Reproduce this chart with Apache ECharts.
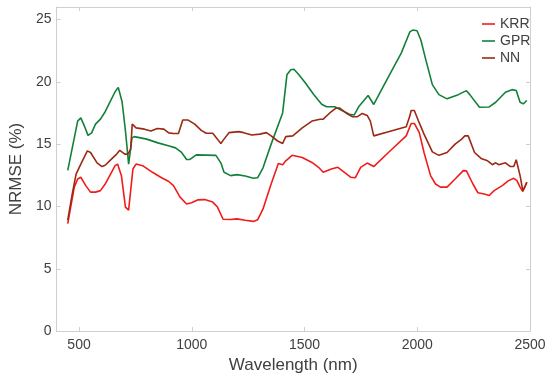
<!DOCTYPE html>
<html>
<head>
<meta charset="utf-8">
<script src="https://cdn.jsdelivr.net/npm/echarts@6/dist/echarts.min.js"></script>
<style>html,body{margin:0;padding:0;background:#fff}#c{width:550px;height:379px}</style>
</head>
<body>
<div id="c"></div>
<script>
const xTicks = [500, 1000, 1500, 2000, 2500];
const yTicks = [0, 5, 10, 15, 20, 25];
const seriesNames = ['KRR', 'GPR', 'NN'];

const krrWl = [450,479,494,508,530,551,573,595,616,660,671,688,706,720,739,753,782,826,862,898,919,948,977,999,1028,1057,1093,1114,1139,1172,1201,1237,1273,1292,1316,1352,1384,1403,1417,1445,1490,1533,1562,1583,1619,1648,1677,1706,1725,1749,1778,1807,1872,1951,1973,1987,2009,2030,2059,2081,2103,2132,2168,2204,2218,2247,2269,2297,2319,2341,2377,2405,2428,2442,2456,2468,2486];
const krrVal = [8.62,11.55,12.2,12.34,11.67,11.15,11.15,11.27,11.8,13.27,13.4,12.47,9.95,9.7,13.0,13.4,13.27,12.74,12.34,12.0,11.67,10.75,10.2,10.3,10.53,10.55,10.35,9.95,8.97,8.95,9.0,8.89,8.8,8.93,9.8,11.8,13.45,13.35,13.66,14.1,13.93,13.53,13.14,12.74,13.0,13.14,12.74,12.34,12.3,13.14,13.48,13.2,14.33,15.66,16.66,16.66,15.92,14.33,12.47,11.8,11.55,11.55,12.2,12.87,12.85,11.8,11.1,11.0,10.88,11.27,11.67,12.07,12.26,12.07,11.55,11.2,11.94];

const gprWl = [450,494,508,525,540,556,573,595,616,660,674,691,706,720,735,745,800,850,900,928,955,977,992,1020,1107,1129,1143,1172,1201,1237,1273,1292,1316,1352,1403,1422,1439,1453,1475,1504,1540,1576,1598,1634,1655,1699,1720,1742,1782,1807,1872,1929,1967,1980,1999,2016,2038,2067,2096,2132,2182,2218,2233,2276,2319,2348,2391,2420,2439,2456,2470,2486];
const gprVal = [12.9,16.85,17.1,16.4,15.7,15.9,16.6,17.0,17.6,19.2,19.55,18.4,16.05,13.4,15.5,15.6,15.4,15.1,14.85,14.7,14.33,13.77,13.77,14.14,14.1,13.5,12.74,12.47,12.55,12.44,12.26,12.3,13.1,15.0,17.5,20.56,20.96,21.0,20.57,19.9,19.0,18.2,18.0,18.0,17.8,17.4,17.33,18.04,18.9,18.18,20.4,22.3,24.0,24.15,24.1,23.35,21.76,19.77,18.97,18.63,18.97,19.29,18.97,17.96,17.98,18.36,19.16,19.37,19.3,18.36,18.23,18.5];

const nnWl = [450,470,487,508,537,551,580,602,616,638,667,681,703,717,729,736,753,790,819,847,876,898,919,941,960,984,1013,1042,1064,1093,1114,1129,1143,1165,1208,1230,1266,1302,1331,1352,1381,1403,1417,1448,1490,1533,1569,1583,1612,1641,1655,1684,1713,1735,1756,1778,1792,1807,1872,1951,1967,1973,1987,2009,2030,2067,2096,2132,2168,2197,2211,2226,2254,2283,2312,2333,2348,2362,2391,2413,2428,2439,2456,2468,2478,2486];
const nnVal = [8.9,11.0,12.6,13.4,14.46,14.33,13.5,13.2,13.3,13.7,14.2,14.5,14.2,14.2,14.6,16.6,16.3,16.2,16.05,16.25,16.2,15.9,15.85,15.85,16.93,16.93,16.6,16.1,15.87,15.87,15.4,15.05,15.4,15.92,16.0,15.92,15.73,15.8,15.92,15.66,15.25,15.05,15.6,15.66,16.3,16.85,17.0,17.0,17.5,17.9,17.9,17.5,17.2,17.2,17.46,17.3,16.85,15.66,16.0,16.4,17.25,17.7,17.7,16.7,15.8,14.38,14.1,14.33,15.0,15.4,15.66,15.66,14.33,13.85,13.66,13.35,13.5,13.35,13.5,13.2,13.2,13.75,12.47,11.27,11.6,11.94];

const colors = ['#f01c1c', '#13803a', '#9a2a14'];
const pairs = (xs, ys) => xs.map((x, i) => [x, ys[i]]);
const seriesData = [pairs(krrWl, krrVal), pairs(gprWl, gprVal), pairs(nnWl, nnVal)];

const axisGray = '#cfcfcf';
const textGray = '#404040';
const font = 'Liberation Sans, Arial, sans-serif';
const plain = v => String(v);

function xAxisBase(pos, showLabel) {
  return {
    type: 'value', position: pos, min: 400, max: 2500,
    splitLine: { show: false },
    axisLine: { show: true, onZero: false, lineStyle: { color: axisGray, width: 1 } },
    axisTick: { show: true, inside: true, length: 4, customValues: xTicks, lineStyle: { color: axisGray } },
    axisLabel: { show: showLabel, customValues: xTicks, formatter: plain, margin: 7, color: textGray, fontSize: 14, fontFamily: font }
  };
}
function yAxisBase(pos, showLabel) {
  return {
    type: 'value', position: pos, min: 0, max: 26,
    splitLine: { show: false },
    axisLine: { show: true, onZero: false, lineStyle: { color: axisGray, width: 1 } },
    axisTick: { show: true, inside: true, length: 4, customValues: yTicks, lineStyle: { color: axisGray } },
    axisLabel: { show: showLabel, customValues: yTicks, formatter: plain, margin: 5, color: textGray, fontSize: 14, fontFamily: font }
  };
}

const xMain = xAxisBase('bottom', true);
xMain.name = 'Wavelength (nm)';
xMain.nameLocation = 'middle';
xMain.nameGap = 24;
xMain.nameTextStyle = { color: textGray, fontSize: 17, fontFamily: font };
const yMain = yAxisBase('left', true);
yMain.name = 'NRMSE (%)';
yMain.nameLocation = 'middle';
yMain.nameGap = 23;
yMain.nameTextStyle = { color: textGray, fontSize: 17, fontFamily: font };

const chart = echarts.init(document.getElementById('c'), null, { renderer: 'canvas' });
chart.setOption({
  animation: false,
  backgroundColor: '#fff',
  grid: { left: 45, right: 20, top: 7, bottom: 46, containLabel: false },
  legend: {
    orient: 'vertical', left: 477, top: 12,
    icon: 'rect', itemWidth: 13, itemHeight: 1.6, itemGap: 3,
    textStyle: { color: textGray, fontSize: 14, fontFamily: font },
    data: seriesNames.map((n, i) => ({ name: n, itemStyle: { color: colors[i] } }))
  },
  xAxis: [xMain, xAxisBase('top', false)],
  yAxis: [yMain, yAxisBase('right', false)],
  series: seriesNames.map((n, i) => ({
    name: n, type: 'line', xAxisIndex: 0, yAxisIndex: 0,
    data: seriesData[i], symbol: 'none', smooth: false,
    lineStyle: { color: colors[i], width: 1.6 },
    itemStyle: { color: colors[i] }
  }))
});
</script>
</body>
</html>
